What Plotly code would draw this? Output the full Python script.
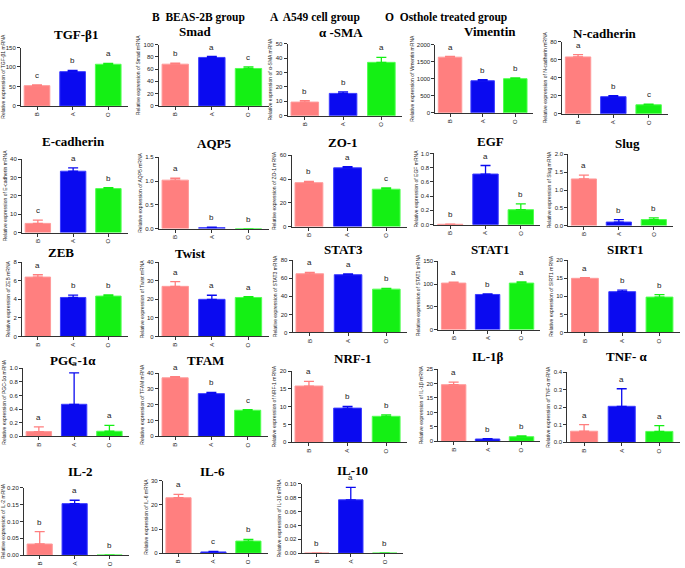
import plotly.graph_objects as go

# Gruppi
groups = ['B', 'A', 'O']
header = ['B  BEAS-2B group', 'A  A549 cell group', 'O  Osthole treated group']

# Dati
genes = ['TGF-β1', 'Smad', 'α -SMA', 'Vimentin', 'N-cadherin',
         'E-cadherin', 'AQP5', 'ZO-1', 'EGF', 'Slug',
         'ZEB', 'Twist', 'STAT3', 'STAT1', 'SIRT1',
         'PGC-1α', 'TFAM', 'NRF-1', 'IL-1β', 'TNF- α',
         'IL-2', 'IL-6', 'IL-10']
ylab_names = ['TGF-β1', 'Smad', 'α-SMA', 'Vimentin', 'N-cadherin',
              'E-cadherin', 'AQP5', 'ZO-1', 'EGF', 'Slug',
              'ZEB', 'Twist', 'STAT3', 'STAT1', 'SIRT1',
              'PGC-1α', 'TFAM', 'NRF-1', 'IL-1β', 'TNF-α',
              'IL-2', 'IL-6', 'IL-10']
mean_B = [52, 68, 9.5, 1630, 63, 5, 1.02, 37, 0.005, 1.31, 6.4, 27, 65, 102, 15,
          0.07, 37, 15.8, 19.6, 0.063, 0.033, 23, 0]
sem_B = [2, 1.5, 1, 20, 2.5, 1.8, 0.04, 1, 0.003, 0.11, 0.25, 2.5, 1.5, 2, 0.2,
         0.07, 0.8, 1.3, 0.9, 0.038, 0.037, 1.4, 0]
mean_A = [88, 79, 15.5, 940, 19, 33.5, 0.02, 49.5, 0.71, 0.10, 4.2, 20, 64, 77, 11.3,
          0.47, 27, 9.6, 0.8, 0.205, 0.153, 0.5, 0.077]
sem_A = [3, 1.5, 1, 30, 1, 1.8, 0.01, 1, 0.12, 0.07, 0.25, 2.2, 1, 1.5, 0.4,
         0.46, 0.8, 0.5, 0.15, 0.1, 0.01, 0.2, 0.018]
mean_O = [107, 61, 37, 1000, 10, 24, 0, 31.5, 0.21, 0.17, 4.35, 21, 48, 102, 9.8,
          0.075, 16.5, 7.3, 1.6, 0.062, 0, 5, 0]
sem_O = [2, 2.5, 3.5, 25, 0.8, 0.5, 0, 1.2, 0.08, 0.05, 0.12, 0.5, 0.8, 2.5, 0.7,
         0.085, 0.4, 0.4, 0.3, 0.033, 0, 0.7, 0]
let_B = ['c', 'b', 'b', 'a', 'a', 'c', 'a', 'b', 'b', 'a', 'a', 'a', 'a', 'a', 'a',
         'a', 'a', 'a', 'a', 'a', 'b', 'a', 'b']
let_A = ['b', 'a', 'b', 'b', 'b', 'a', 'b', 'a', 'a', 'b', 'b', 'a', 'a', 'b', 'b',
         'a', 'b', 'b', 'b', 'a', 'a', 'c', 'a']
let_O = ['a', 'c', 'a', 'b', 'c', 'b', 'b', 'c', 'b', 'b', 'b', 'a', 'b', 'a', 'b',
         'a', 'c', 'b', 'b', 'a', 'b', 'b', 'b']
y_max = [150, 100, 50, 2000, 80, 40, 1.5, 60, 1.0, 2.0, 8, 40, 80, 150, 20,
         1.0, 40, 20, 25, 0.4, 0.20, 30, 0.10]
y_step = [50, 20, 10, 500, 20, 10, 0.5, 20, 0.2, 0.5, 2, 10, 20, 50, 5,
          0.2, 10, 5, 5, 0.1, 0.05, 10, 0.02]

# Posizioni dei pannelli in pixel: x0, x1, ytop, ybot, titolo x, titolo y
W, H = 685, 568
geo = [(20, 127, 45, 104, 75, 32), (158, 268, 42, 104, 195, 29), (287, 402, 41, 114, 340, 30),
       (435, 533, 42, 111, 490, 29), (562, 668, 39, 112, 605, 31),
       (21, 127, 158, 232, 73, 140), (158, 268, 156, 228, 213, 142), (291, 407, 154, 226, 343, 141),
       (434, 540, 152, 224, 490, 140), (568, 673, 153, 225, 627, 142),
       (21, 127, 262, 337, 60, 252), (158, 268, 262, 337, 190, 253), (292, 407, 260, 333, 343, 249),
       (438, 540, 261, 330, 490, 249), (568, 680, 260, 333, 625, 249),
       (22, 128, 369, 438, 72, 361), (158, 267, 374, 438, 205, 361), (291, 407, 372, 444, 353, 359),
       (438, 540, 370, 443, 488, 357), (567, 680, 373, 444, 627, 357),
       (23, 128, 490, 558, 80, 474), (162, 267, 483, 556, 212, 473), (301, 403, 486, 556, 352, 472)]

colors = {'B': '#FF7F7F', 'A': '#0A0AF0', 'O': '#14F014'}
lines = {'B': '#FF9A9A', 'A': '#3C3CFF', 'O': '#50FF50'}

fig = go.Figure()
annots = []
for i, g in enumerate(genes):
    k = i + 1
    xs = 'x' if k == 1 else 'x' + str(k)
    ys = 'y' if k == 1 else 'y' + str(k)
    m = {'B': mean_B[i], 'A': mean_A[i], 'O': mean_O[i]}
    s = {'B': sem_B[i], 'A': sem_A[i], 'O': sem_O[i]}
    l = {'B': let_B[i], 'A': let_A[i], 'O': let_O[i]}
    for grp in groups:
        fig.add_trace(go.Bar(x=[grp], y=[m[grp]], xaxis=xs, yaxis=ys, width=0.72,
                             marker=dict(color=colors[grp], line=dict(color=lines[grp], width=1)),
                             error_y=dict(type='data', symmetric=False, array=[s[grp]], arrayminus=[0],
                                          color=colors[grp], thickness=1.3, width=5),
                             showlegend=False))
        annots.append(dict(x=grp, y=m[grp] + s[grp], xref=xs, yref=ys, text=l[grp],
                           showarrow=False, yanchor='bottom', yshift=3,
                           font=dict(family='Arial', size=8, color='#222')))
    x0, x1, yt, yb, tx, ty = geo[i]
    fmt = '.2f' if y_step[i] < 0.1 else ('.1f' if y_step[i] < 1 else 'd')
    fig.layout['xaxis' if k == 1 else 'xaxis' + str(k)] = dict(
        domain=[x0 / W, x1 / W], anchor=ys, type='category',
        categoryorder='array', categoryarray=groups, range=[-0.45, 2.55],
        showline=True, linecolor='#333', linewidth=1, ticks='outside', ticklen=3,
        tickcolor='#333', tickangle=-90, tickfont=dict(family='Arial', size=6, color='#222'),
        showgrid=False, zeroline=False, fixedrange=True)
    fig.layout['yaxis' if k == 1 else 'yaxis' + str(k)] = dict(
        domain=[1 - yb / H, 1 - yt / H], anchor=xs, range=[0, y_max[i]],
        dtick=y_step[i], tick0=0, tickformat=fmt,
        showline=True, linecolor='#333', linewidth=1, ticks='outside', ticklen=3,
        tickcolor='#333', tickfont=dict(family='Arial', size=6, color='#222'),
        title=dict(text='Relative expression of ' + ylab_names[i] + ' mRNA',
                   font=dict(family='Arial', size=5, color='#222'), standoff=2),
        showgrid=False, zeroline=False, fixedrange=True)
    annots.append(dict(x=tx / W, y=1 - ty / H, xref='paper', yref='paper', text='<b>' + g + '</b>',
                       showarrow=False, xanchor='center', yanchor='middle',
                       font=dict(family='Liberation Serif', size=13, color='black')))

head_x = [149, 267, 383]
for hx, t in zip(head_x, header):
    annots.append(dict(x=hx / W, y=1 - 15 / H, xref='paper', yref='paper', text='<b>' + t + '</b>',
                       showarrow=False, xanchor='left', yanchor='middle',
                       font=dict(family='Liberation Serif', size=11.5, color='black')))

fig.update_layout(width=W, height=H, margin=dict(l=0, r=0, t=0, b=0), autosize=False,
                  barmode='overlay', plot_bgcolor='white', paper_bgcolor='white',
                  annotations=annots, showlegend=False)
fig.write_html('out.html', config={'displayModeBar': False},
               post_script="document.body.style.margin='0';")
